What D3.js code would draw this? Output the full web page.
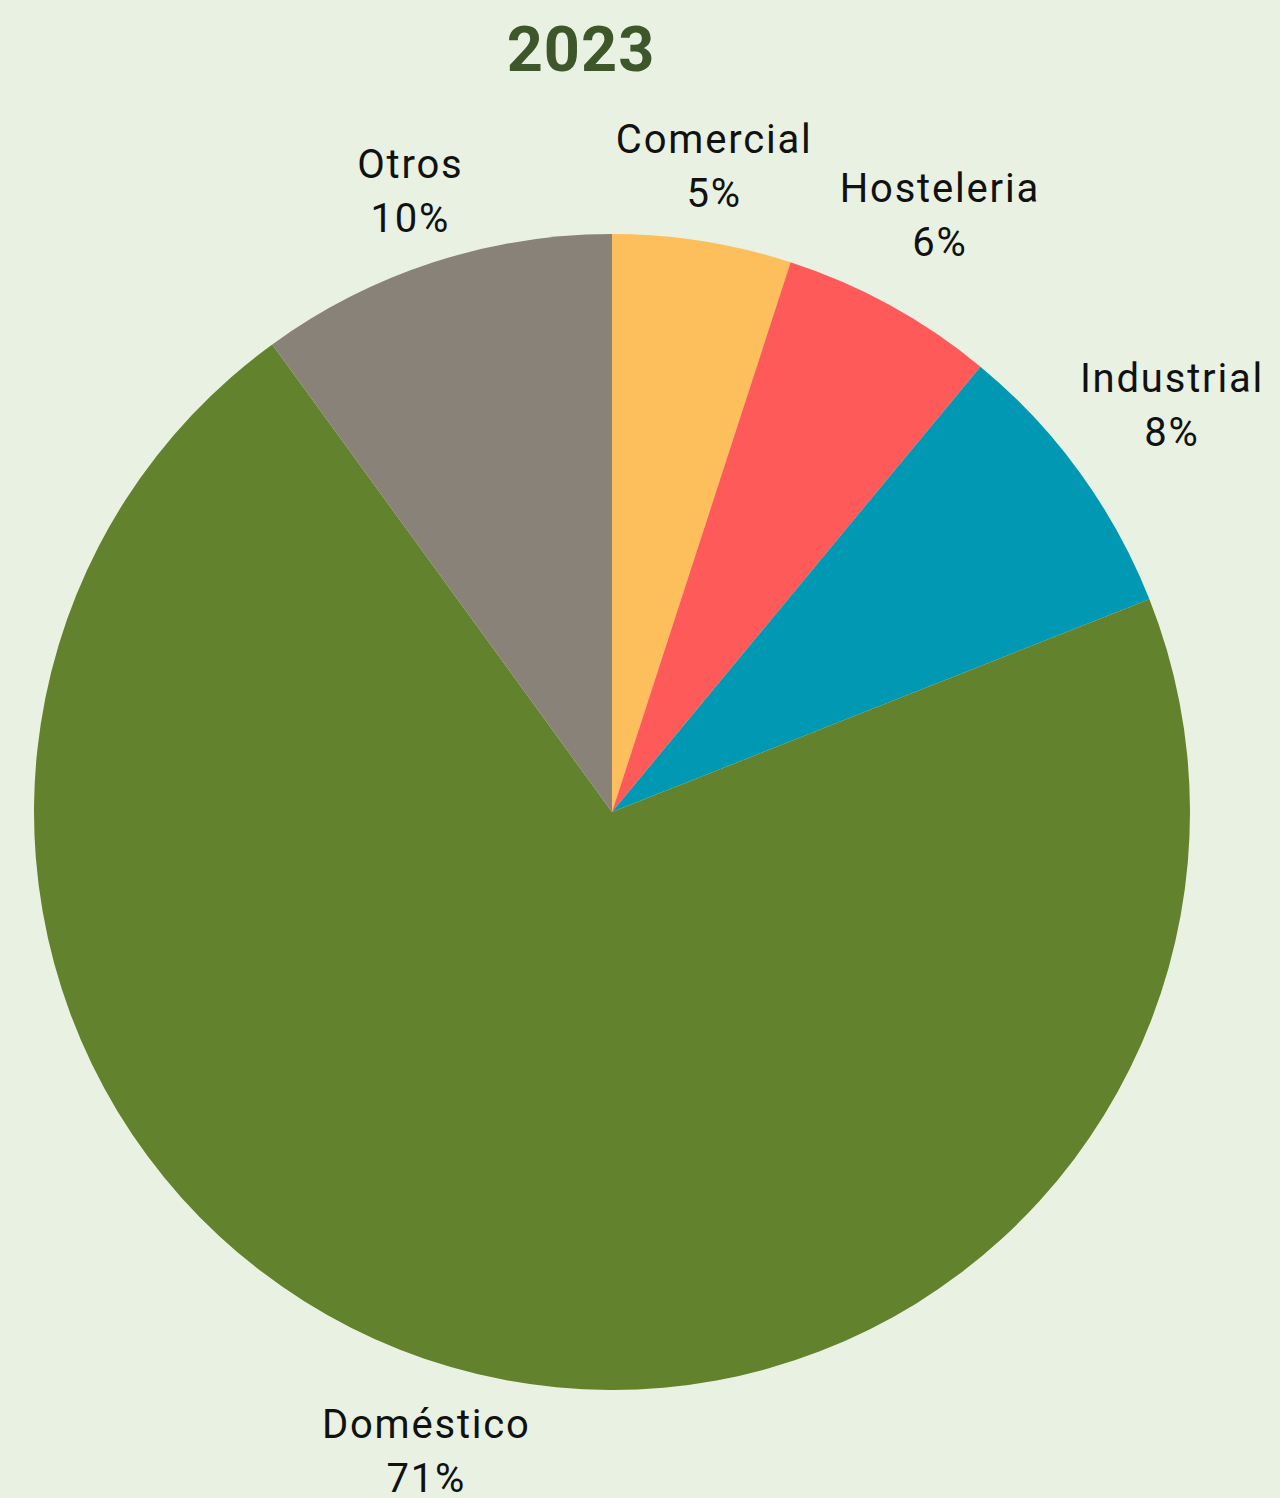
<!DOCTYPE html>
<html>
<head>
<meta charset="utf-8">
<script src="https://cdn.jsdelivr.net/npm/d3@7"></script>
<style>
  html, body { margin: 0; padding: 0; background: #e9f2e2; }
  svg { display: block; }
</style>
</head>
<body>
<svg id="chart" width="1280" height="1498"></svg>
<script>
const title = "2023";
const categories = ["Comercial", "Hosteleria", "Industrial", "Doméstico", "Otros"];
const values = [5, 6, 8, 71, 10];
const colors = ["#fdbe5c", "#fe5a5a", "#0098b2", "#63822d", "#898279"];

const W = 1280, H = 1498;
const cx = 612, cy = 812, R = 578, gap = 10;
const fontFamily = "Roboto, 'Noto Sans', sans-serif";

const svg = d3.select("#chart");
svg.append("rect").attr("width", W).attr("height", H).attr("fill", "#e9f2e2");

const data = categories.map((c, i) => ({ cat: c, value: values[i], color: colors[i] }));
const pie = d3.pie().value(d => d.value).sort(null);
const arcs = pie(data);
const arc = d3.arc().innerRadius(0).outerRadius(R);

const g = svg.append("g").attr("transform", `translate(${cx},${cy})`);
g.selectAll("path").data(arcs).enter().append("path")
  .attr("d", arc)
  .attr("fill", d => d.data.color);

const total = d3.sum(values);
const fmt = v => Math.round(v / total * 100) + "%";

const labels = g.selectAll("g.lbl").data(arcs).enter().append("g").attr("class", "lbl");
labels.each(function(d) {
  const lg = d3.select(this);
  const t = lg.append("text")
    .attr("text-anchor", "middle")
    .attr("font-family", fontFamily)
    .attr("font-size", 40)
    .attr("letter-spacing", 1.8)
    .attr("fill", "#111");
  t.append("tspan").attr("x", 0).attr("y", -8).text(d.data.cat);
  t.append("tspan").attr("x", 0).attr("y", 46).text(fmt(d.data.value));
  const bb = t.node().getBBox();
  const bcx = bb.x + bb.width / 2, bcy = bb.y + bb.height / 2;
  const a = (d.startAngle + d.endAngle) / 2;
  const sx = Math.sin(a), sy = -Math.cos(a);
  const ext = (bb.width / 2) * Math.abs(sx) + (bb.height / 2) * Math.abs(sy);
  const r = R + gap + ext;
  lg.attr("transform", `translate(${r * sx - bcx},${r * sy - bcy})`);
});

svg.append("text")
  .attr("x", 581).attr("y", 71)
  .attr("text-anchor", "middle")
  .attr("font-family", fontFamily)
  .attr("font-weight", "bold")
  .attr("font-size", 63)
  .attr("letter-spacing", 1)
  .attr("fill", "#3d572b")
  .text(title);
</script>
</body>
</html>
